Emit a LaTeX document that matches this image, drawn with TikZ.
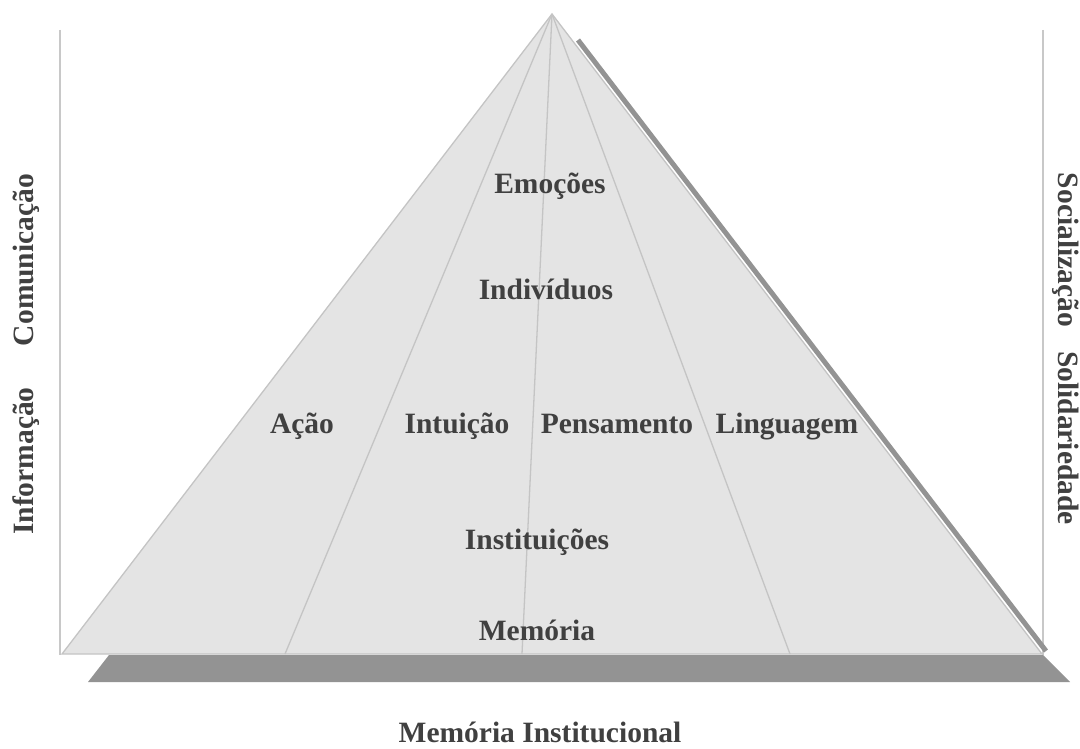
\documentclass[tikz,border=0pt]{standalone}
\usepackage{fontspec}
\setmainfont{Liberation Serif}
\definecolor{txt}{HTML}{404040}
\definecolor{pyrfill}{HTML}{E4E4E4}
\definecolor{edgec}{HTML}{C4C4C4}
\definecolor{axisc}{HTML}{C8C8C8}
\definecolor{shadowc}{HTML}{939393}
\begin{document}
\begin{tikzpicture}[x=1pt,y=-1pt,
  lbl/.style={font=\fontsize{29.5}{32}\selectfont\bfseries, text=txt, inner sep=0pt, anchor=base},
  edgeline/.style={draw=edgec, line width=1.3pt},
  axisline/.style={draw=axisc, line width=1.6pt}]
\useasboundingbox (0,0) rectangle (1080,749);
\coordinate (apex) at (552,14);
\coordinate (bl) at (62,654);
\coordinate (br) at (1042,654);
\coordinate (b1) at (285,654);
\coordinate (b2) at (522,654);
\coordinate (b3) at (790,654);
\coordinate (lt) at (60,30);
\coordinate (lb) at (60,655);
\coordinate (rt) at (1043,30);
\coordinate (rb) at (1043,655);
% axes
\draw[axisline] (lt) -- (lb);
\draw[axisline] (rt) -- (rb);
% shadows
\fill[shadowc] (109,655) -- (1043,655) -- (1070,682) -- (88,682) -- cycle;
\draw[shadowc, line width=5pt] (578,40) -- (1046,651);
% pyramid
\filldraw[fill=pyrfill, edgeline] (apex) -- (br) -- (bl) -- cycle;
\draw[edgeline] (apex) -- (b1);
\draw[edgeline] (apex) -- (b2);
\draw[edgeline] (apex) -- (b3);
% labels
\node[lbl] (emo) at (550,194) {Emoções};
\node[lbl] (ind) at (546,299) {Indivíduos};
\node[lbl] (acao) at (302,433) {Ação};
\node[lbl] (intu) at (457,433) {Intuição};
\node[lbl] (pens) at (617,433) {Pensamento};
\node[lbl] (ling) at (787,433) {Linguagem};
\node[lbl] (inst) at (537,549) {Instituições};
\node[lbl] (mem) at (537,640) {Memória};
\node[lbl] (memi) at (540,742) {Memória Institucional};
\node[lbl, anchor=base, rotate=90] (com) at (33,260) {Comunicação};
\node[lbl, anchor=base, rotate=90] (inf) at (33,461) {Informação};
\node[lbl, anchor=base, rotate=-90] (soc) at (1058,250) {Socialização};
\node[lbl, anchor=base, rotate=-90] (sol) at (1058,438) {Solidariedade};
\end{tikzpicture}
\end{document}
